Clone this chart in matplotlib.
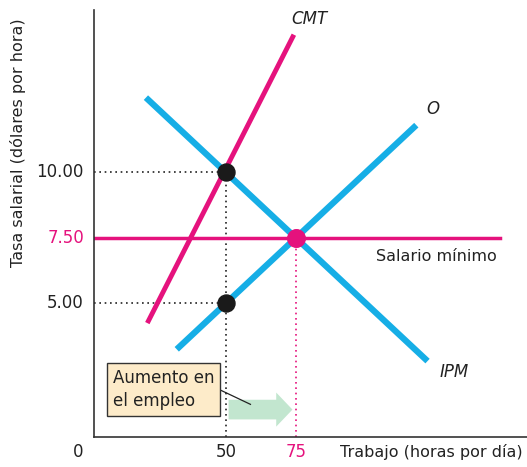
#!/usr/bin/env python3

import matplotlib

matplotlib.use("Agg")
import matplotlib.pyplot as plt
from matplotlib.patches import FancyArrow

MAGENTA = "#e5127d"
BLUE = "#16aee6"

# curves (hours per day, dollars per hour)
cmt_x = [22, 74.3]
cmt_y = [4.25, 15.25]
ipm_x = [21.5, 122]
ipm_y = [12.85, 2.8]
o_x = [32.5, 118]
o_y = [3.25, 11.8]
min_wage = 7.5
min_wage_end = 148

# marked points
black_pts_x = [50, 50]
black_pts_y = [10, 5]
eq_x, eq_y = 75, 7.5

y_ticks = [10, 7.5, 5]
y_tick_labels = ["10.00", "7.50", "5.00"]
x_ticks = [50, 75]
x_tick_labels = ["50", "75"]

plt.rcParams["font.family"] = ["DejaVu Sans"]

fig = plt.figure(figsize=(5.27, 4.67), dpi=100)
ax = fig.add_axes([0.178, 0.064, 0.822, 0.915])
x0, x1 = 2.9, 157.5
y0, y1 = -0.1, 16.2
ax.set_xlim(x0, x1)
ax.set_ylim(y0, y1)
for s in ["top", "right"]:
    ax.spines[s].set_visible(False)
for s in ["left", "bottom"]:
    ax.spines[s].set_color("#333333")
    ax.spines[s].set_linewidth(1.2)
ax.set_xticks([])
ax.set_yticks([])

# dotted guides
dots = (0, (1, 2.2))
ax.plot([x0, 50], [10, 10], ls=dots, color="#222222", lw=1.2)
ax.plot([x0, 50], [5, 5], ls=dots, color="#222222", lw=1.2)
ax.plot([50, 50], [y0, 10], ls=dots, color="#222222", lw=1.2)
ax.plot([75, 75], [y0, 7.5], ls=dots, color=MAGENTA, lw=1.2)

# curves
ax.plot([x0, min_wage_end], [min_wage, min_wage], color=MAGENTA, lw=2.5)
ax.plot(ipm_x, ipm_y, color=BLUE, lw=4.5, solid_capstyle="butt")
ax.plot(o_x, o_y, color=BLUE, lw=4.5, solid_capstyle="butt")
ax.plot(cmt_x, cmt_y, color=MAGENTA, lw=3.5, solid_capstyle="butt")

ax.scatter(black_pts_x, black_pts_y, s=150, color="#1a1a1a", zorder=5)
ax.scatter([eq_x], [eq_y], s=160, color=MAGENTA, zorder=5)

# curve labels
ax.text(80, 15.85, "CMT", style="italic", fontsize=12, ha="center", va="center", color="#222222")
ax.text(124, 12.4, "O", style="italic", fontsize=12, ha="center", va="center", color="#222222")
ax.text(131.5, 2.4, "IPM", style="italic", fontsize=12, ha="center", va="center", color="#222222")
ax.text(125, 6.8, "Salario mínimo", fontsize=11.5, ha="center", va="center", color="#222222")

# employment increase arrow and note
ax.add_patch(FancyArrow(51, 0.95, 17, 0, width=0.75, head_width=1.3, head_length=5.8,
                        length_includes_head=False, color="#c2e6cf", lw=0))
ax.plot([46.0, 58.8], [1.8, 1.15], color="#222222", lw=0.9)
ax.text(9.6, 1.72, "Aumento en\nel empleo", fontsize=12, ha="left", va="center",
        linespacing=1.35, color="#222222",
        bbox=dict(boxstyle="square,pad=0.35", facecolor="#fdebc9", edgecolor="#333333", lw=1))

# tick labels
for v, lab in zip(y_ticks, y_tick_labels):
    ax.text(x0 - 3.5, v, lab, fontsize=12, ha="right", va="center",
            color=MAGENTA if v == min_wage else "#222222")
for v, lab in zip(x_ticks, x_tick_labels):
    ax.text(v, -0.65, lab, fontsize=12, ha="center", va="center",
            color=MAGENTA if v == eq_x else "#222222")
ax.text(-2.8, -0.65, "0", fontsize=12, ha="center", va="center", color="#222222", clip_on=False)
ax.text(156, -0.65, "Trabajo (horas por día)", fontsize=11.5, ha="right", va="center", color="#222222")

fig.text(0.034, 0.695, "Tasa salarial (dólares por hora)", rotation=90, fontsize=11.5,
         ha="center", va="center", color="#222222")

fig.savefig("out.png", dpi=100)
